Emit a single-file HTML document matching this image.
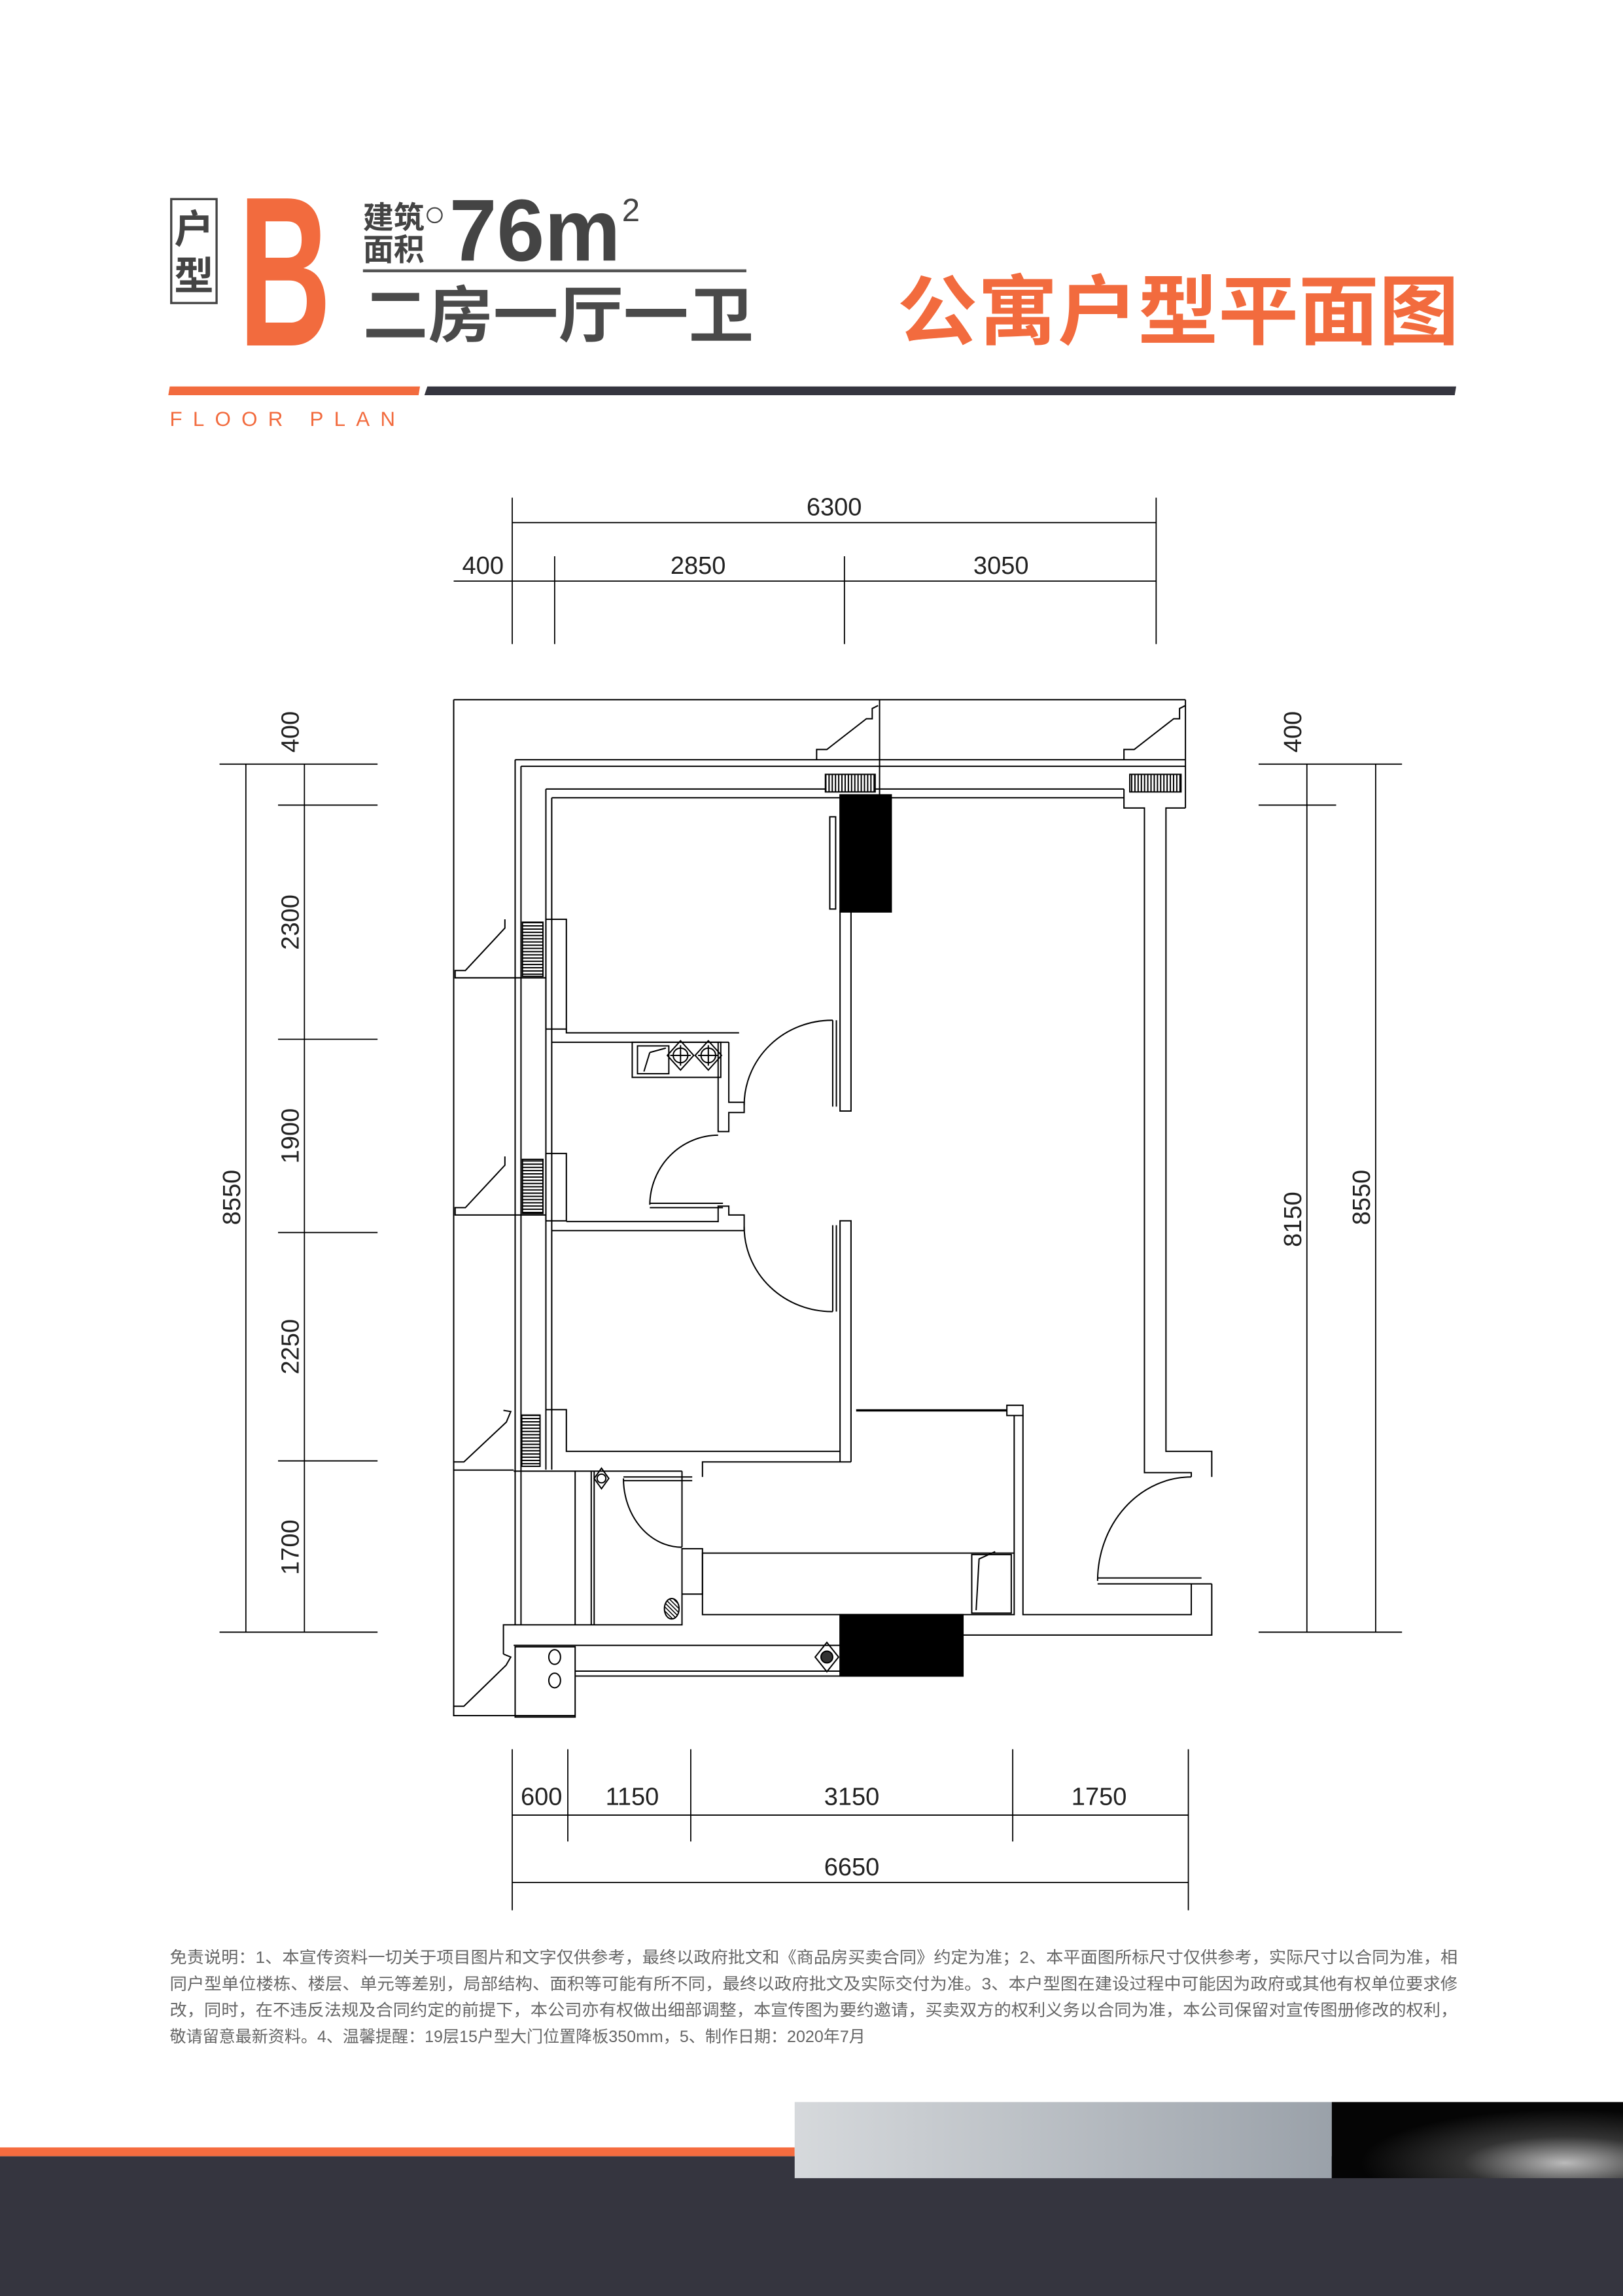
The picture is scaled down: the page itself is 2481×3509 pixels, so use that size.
<!DOCTYPE html>
<html><head><meta charset="utf-8"><style>
html,body{margin:0;padding:0;background:#fff;}
svg{display:block;}
text{font-family:"Liberation Sans","Noto Sans CJK SC",sans-serif;}
</style></head><body>
<svg width="2481" height="3509" viewBox="0 0 1109 1568.5" xmlns="http://www.w3.org/2000/svg">
<defs>
<pattern id="hv" width="2.2" height="4" patternUnits="userSpaceOnUse"><rect width="2.2" height="4" fill="#fff"/><line x1="1.1" y1="0" x2="1.1" y2="4" stroke="#000" stroke-width="0.9"/></pattern>
<pattern id="hh" width="4" height="2.2" patternUnits="userSpaceOnUse"><rect width="4" height="2.2" fill="#fff"/><line x1="0" y1="1.1" x2="4" y2="1.1" stroke="#000" stroke-width="0.9"/></pattern>
<pattern id="hd" width="2" height="2" patternUnits="userSpaceOnUse" patternTransform="rotate(45)"><line x1="0" y1="1" x2="2" y2="1" stroke="#000" stroke-width="0.7"/></pattern>
<linearGradient id="gg" x1="0" x2="1"><stop offset="0" stop-color="#d6d9dc"/><stop offset="1" stop-color="#9aa1a9"/></linearGradient>
<radialGradient id="dk" cx="0.8" cy="0.8" r="0.7"><stop offset="0" stop-color="#bbb"/><stop offset="0.5" stop-color="#333"/><stop offset="1" stop-color="#050505"/></radialGradient>
</defs>
<rect width="1109" height="1568.5" fill="#fff"/>

<!-- header -->
<rect x="117" y="136" width="31" height="71" fill="none" stroke="#444" stroke-width="1.5"/>
<text x="132.5" y="166" font-size="27" font-weight="bold" fill="#444" text-anchor="middle">户</text>
<text x="132.5" y="198" font-size="27" font-weight="bold" fill="#444" text-anchor="middle">型</text>
<text transform="translate(163,236) scale(0.6,1)" font-size="146" font-weight="bold" fill="#f26b3e">B</text>
<text x="248" y="156" font-size="21" font-weight="bold" fill="#444" textLength="42" lengthAdjust="spacingAndGlyphs">建筑</text>
<text x="248" y="178" font-size="21" font-weight="bold" fill="#444" textLength="42" lengthAdjust="spacingAndGlyphs">面积</text>
<circle cx="297" cy="147" r="5" fill="none" stroke="#444" stroke-width="1"/>
<text x="307" y="178" font-size="60" font-weight="bold" fill="#444" textLength="117" lengthAdjust="spacingAndGlyphs">76m</text>
<text x="425" y="151" font-size="22" fill="#444">2</text>
<line x1="248" y1="185" x2="510" y2="185" stroke="#555" stroke-width="2"/>
<text x="248" y="230" font-size="42" font-weight="bold" fill="#4a4a4a" textLength="267" lengthAdjust="spacingAndGlyphs">二房一厅一卫</text>
<text x="613" y="231" font-size="52" font-weight="bold" fill="#f26b3e" textLength="384" lengthAdjust="spacingAndGlyphs">公寓户型平面图</text>
<polygon points="116,264 287,264 286,270 115,270" fill="#f26b3e"/>
<polygon points="292,264 995,264 994,270 290,270" fill="#35353f"/>
<text x="116" y="291" font-size="14" fill="#f26b3e" textLength="154" lengthAdjust="spacing">FLOOR PLAN</text>

<!-- dimensions -->
<g stroke="#000" stroke-width="0.8" fill="none">
<line x1="350" y1="357" x2="790" y2="357"/>
<line x1="350" y1="340" x2="350" y2="440"/><line x1="790" y1="340" x2="790" y2="440"/>
<line x1="310" y1="397" x2="790" y2="397"/>
<line x1="379" y1="380" x2="379" y2="440"/><line x1="577" y1="380" x2="577" y2="440"/>
<line x1="168" y1="522" x2="168" y2="1115"/><line x1="208" y1="522" x2="208" y2="1115"/>
<line x1="150" y1="522" x2="258" y2="522"/><line x1="190" y1="550" x2="258" y2="550"/>
<line x1="190" y1="710" x2="258" y2="710"/><line x1="190" y1="842" x2="258" y2="842"/>
<line x1="190" y1="998" x2="258" y2="998"/><line x1="150" y1="1115" x2="258" y2="1115"/>
<line x1="893" y1="522" x2="893" y2="1115"/><line x1="940" y1="522" x2="940" y2="1115"/>
<line x1="860" y1="522" x2="958" y2="522"/><line x1="860" y1="550" x2="913" y2="550"/>
<line x1="860" y1="1115" x2="958" y2="1115"/>
<line x1="350" y1="1240" x2="812" y2="1240"/>
<line x1="350" y1="1195" x2="350" y2="1305"/><line x1="812" y1="1195" x2="812" y2="1305"/>
<line x1="388" y1="1195" x2="388" y2="1258"/><line x1="472" y1="1195" x2="472" y2="1258"/><line x1="692" y1="1195" x2="692" y2="1258"/>
<line x1="350" y1="1286" x2="812" y2="1286"/>
</g>
<g font-size="17" fill="#222" text-anchor="middle">
<text x="570" y="352">6300</text>
<text x="330" y="392">400</text><text x="477" y="392">2850</text><text x="684" y="392">3050</text>
<text x="370" y="1233">600</text><text x="432" y="1233">1150</text><text x="582" y="1233">3150</text><text x="751" y="1233">1750</text>
<text x="582" y="1281">6650</text>
<text transform="translate(204,500) rotate(-90)">400</text>
<text transform="translate(204,630) rotate(-90)">2300</text>
<text transform="translate(204,776) rotate(-90)">1900</text>
<text transform="translate(204,920) rotate(-90)">2250</text>
<text transform="translate(204,1057) rotate(-90)">1700</text>
<text transform="translate(164,818) rotate(-90)">8550</text>
<text transform="translate(889,500) rotate(-90)">400</text>
<text transform="translate(889,833) rotate(-90)">8150</text>
<text transform="translate(936,818) rotate(-90)">8550</text>
</g>

<!-- floor plan -->
<g stroke="#000" stroke-width="0.9" fill="none">
<!-- outer -->
<line x1="310" y1="478" x2="810" y2="478"/>
<line x1="310" y1="478" x2="310" y2="1172"/>
<line x1="810" y1="478" x2="810" y2="552"/>
<line x1="601" y1="478" x2="601" y2="549"/>
<!-- double lines top/left -->
<line x1="352" y1="519" x2="810" y2="519"/><line x1="356" y1="523.5" x2="810" y2="523.5"/>
<line x1="373" y1="539" x2="768" y2="539"/><line x1="377" y1="545" x2="768" y2="545"/>
<line x1="352" y1="519" x2="352" y2="1110"/><line x1="356" y1="523.5" x2="356" y2="1110"/>
<line x1="373" y1="539" x2="373" y2="1004"/><line x1="377" y1="545" x2="377" y2="1004"/>
<!-- top bays -->
<polyline points="558,519 558,512 565,512 592,491 596,491 596,484 600,482"/>
<polyline points="768,519 768,512 775,512 802,491 806,491 806,484 810,482"/>
<rect x="564" y="529" width="34" height="12" fill="url(#hv)"/>
<rect x="772" y="529" width="35" height="12" fill="url(#hv)"/>
<polyline points="768,539 768,552 782,552 782,1006 814,1006 814,1009"/>
<polyline points="810,552 796.7,552 796.7,991.5 828,991.5 828,1009"/>
<!-- left bays -->
<polyline points="345,628 345,634 318,663 311,663 311,668 373,668"/>
<rect x="357" y="630" width="14" height="37" fill="url(#hh)"/>
<rect x="373" y="628" width="14" height="75"/>
<polyline points="345,790 345,796 318,825 311,825 311,830 373,830"/>
<rect x="357" y="792" width="14" height="37" fill="url(#hh)"/>
<rect x="373" y="788" width="14" height="46"/>
<polyline points="344,963.5 349,964.3 346,971.5 317,998.7 310,998.7 310,1004.3 351,1004.3"/>
<rect x="356.5" y="966.7" width="12.5" height="35" fill="url(#hh)"/>
<polyline points="373,963 387,963 387,991.5 574,991.5"/>
<!-- top black block + window -->
<rect x="574" y="543" width="35" height="80" fill="#000"/>
<rect x="567" y="558" width="4" height="63"/>
<!-- partition bed/living -->
<polyline points="574,622 574,759 581.5,759 581.5,622"/>
<line x1="569" y1="697" x2="569" y2="756"/><line x1="571.5" y1="697" x2="571.5" y2="756"/>
<path d="M569,697 A60,58 0 0 0 508.5,755"/>
<polyline points="574,998.7 574,834 581.5,834 581.5,998.7"/>
<line x1="569" y1="837" x2="569" y2="896"/><line x1="571.5" y1="837" x2="571.5" y2="896"/>
<path d="M508.5,838 A60,58 0 0 0 569,896"/>
<!-- kitchen -->
<polyline points="387,703 387,705.6 505,705.6"/>
<line x1="377" y1="712" x2="498" y2="712"/>
<polyline points="490.7,712 490.7,773 498,773 498,760 508.5,760 508.5,753 498,753 498,712"/>
<polyline points="490.7,835 490.7,824 498,824 498,830 508.5,830 508.5,840.7"/>
<line x1="387" y1="834.5" x2="490.7" y2="834.5"/>
<line x1="377" y1="840.7" x2="508.5" y2="840.7"/>
<rect x="432" y="712" width="60.5" height="24"/>
<rect x="435.6" y="714.5" width="21.4" height="19"/>
<line x1="440" y1="732" x2="444" y2="719"/><line x1="444" y1="719" x2="455" y2="716"/>
<polygon points="465,711 474,721 465,731 456,721"/><polygon points="484,711 493,721 484,731 475,721"/>
<circle cx="465" cy="721" r="5"/><circle cx="484" cy="721" r="5"/>
<line x1="458" y1="721" x2="472" y2="721"/><line x1="465" y1="714" x2="465" y2="728"/>
<line x1="477" y1="721" x2="491" y2="721"/><line x1="484" y1="714" x2="484" y2="728"/>
<line x1="444" y1="822" x2="494" y2="822"/><line x1="444" y1="825" x2="494" y2="825"/>
<path d="M444,823 A47,48 0 0 1 490.7,775.5"/>
<!-- bedroom2 bottom / bath -->
<polyline points="480,1009 480,998.7 581.5,998.7"/>
<line x1="351" y1="1005" x2="466" y2="1005"/>
<polyline points="466,1005 466,1057"/>
<polyline points="466,1089 466,1110 344,1110 344,1130"/>
<line x1="393" y1="1005" x2="393" y2="1110"/>
<line x1="404" y1="1005" x2="404" y2="1110"/><line x1="406" y1="1005" x2="406" y2="1110"/>
<line x1="426" y1="1009" x2="473" y2="1009"/><line x1="426" y1="1011.5" x2="473" y2="1011.5"/>
<path d="M426,1010 A40,47 0 0 0 466,1057"/>
<rect x="466" y="1058" width="14" height="31"/>
<ellipse cx="459" cy="1099" rx="5" ry="7" fill="url(#hd)"/>
<polygon points="411,1003 416,1010 411,1017 406,1010"/><circle cx="411" cy="1010" r="3"/>
<!-- storage / wardrobe -->
<line x1="585" y1="963.5" x2="688" y2="963.5" stroke-width="1.6"/>
<rect x="688" y="960" width="11" height="7"/>
<polyline points="693,967 693,1103 480,1103 480,1061 693,1061"/>
<polyline points="699,967 699,1103 814,1103 814,1081.7"/>
<rect x="664" y="1062" width="27" height="40"/>
<polyline points="667,1100 669,1065 680,1060"/>
<!-- entrance -->
<line x1="750" y1="1078" x2="821" y2="1078"/><line x1="750" y1="1082" x2="828" y2="1082"/>
<path d="M814,1009 A64,71 0 0 0 750,1080"/>
<polyline points="828,1082 828,1117 658,1117"/>
<!-- lower balcony -->
<rect x="574" y="1103" width="84" height="42" fill="#000"/>
<line x1="351" y1="1124" x2="574" y2="1124"/>
<line x1="393" y1="1141.6" x2="574" y2="1141.6"/><line x1="393" y1="1145" x2="574" y2="1145"/>
<rect x="352" y="1125" width="41" height="48"/>
<ellipse cx="379" cy="1132" rx="4" ry="5"/><ellipse cx="379" cy="1148" rx="4" ry="5"/>
<polyline points="344,1130 349,1132 345.8,1137.6 317,1165.6 310,1165.6 310,1172 393,1172"/>
<polygon points="565,1122 573,1132 565,1142 557,1132"/><circle cx="565" cy="1132" r="4" fill="#333"/>
</g>

<!-- disclaimer -->
<g font-size="11.2" fill="#666">
<text x="116" y="1341" textLength="880" lengthAdjust="spacingAndGlyphs">免责说明：1、本宣传资料一切关于项目图片和文字仅供参考，最终以政府批文和《商品房买卖合同》约定为准；2、本平面图所标尺寸仅供参考，实际尺寸以合同为准，相</text>
<text x="116" y="1359" textLength="880" lengthAdjust="spacingAndGlyphs">同户型单位楼栋、楼层、单元等差别，局部结构、面积等可能有所不同，最终以政府批文及实际交付为准。3、本户型图在建设过程中可能因为政府或其他有权单位要求修</text>
<text x="116" y="1377" textLength="880" lengthAdjust="spacingAndGlyphs">改，同时，在不违反法规及合同约定的前提下，本公司亦有权做出细部调整，本宣传图为要约邀请，买卖双方的权利义务以合同为准，本公司保留对宣传图册修改的权利，</text>
<text x="116" y="1395">敬请留意最新资料。4、温馨提醒：19层15户型大门位置降板350mm，5、制作日期：2020年7月</text>
</g>

<!-- footer -->
<rect x="0" y="1473" width="1109" height="96" fill="#35353f"/>
<rect x="0" y="1467" width="543" height="6" fill="#f56c3f"/>
<rect x="543" y="1436" width="367" height="52" fill="url(#gg)"/>
<rect x="910" y="1436" width="199" height="52" fill="url(#dk)"/>
</svg>
</body></html>
